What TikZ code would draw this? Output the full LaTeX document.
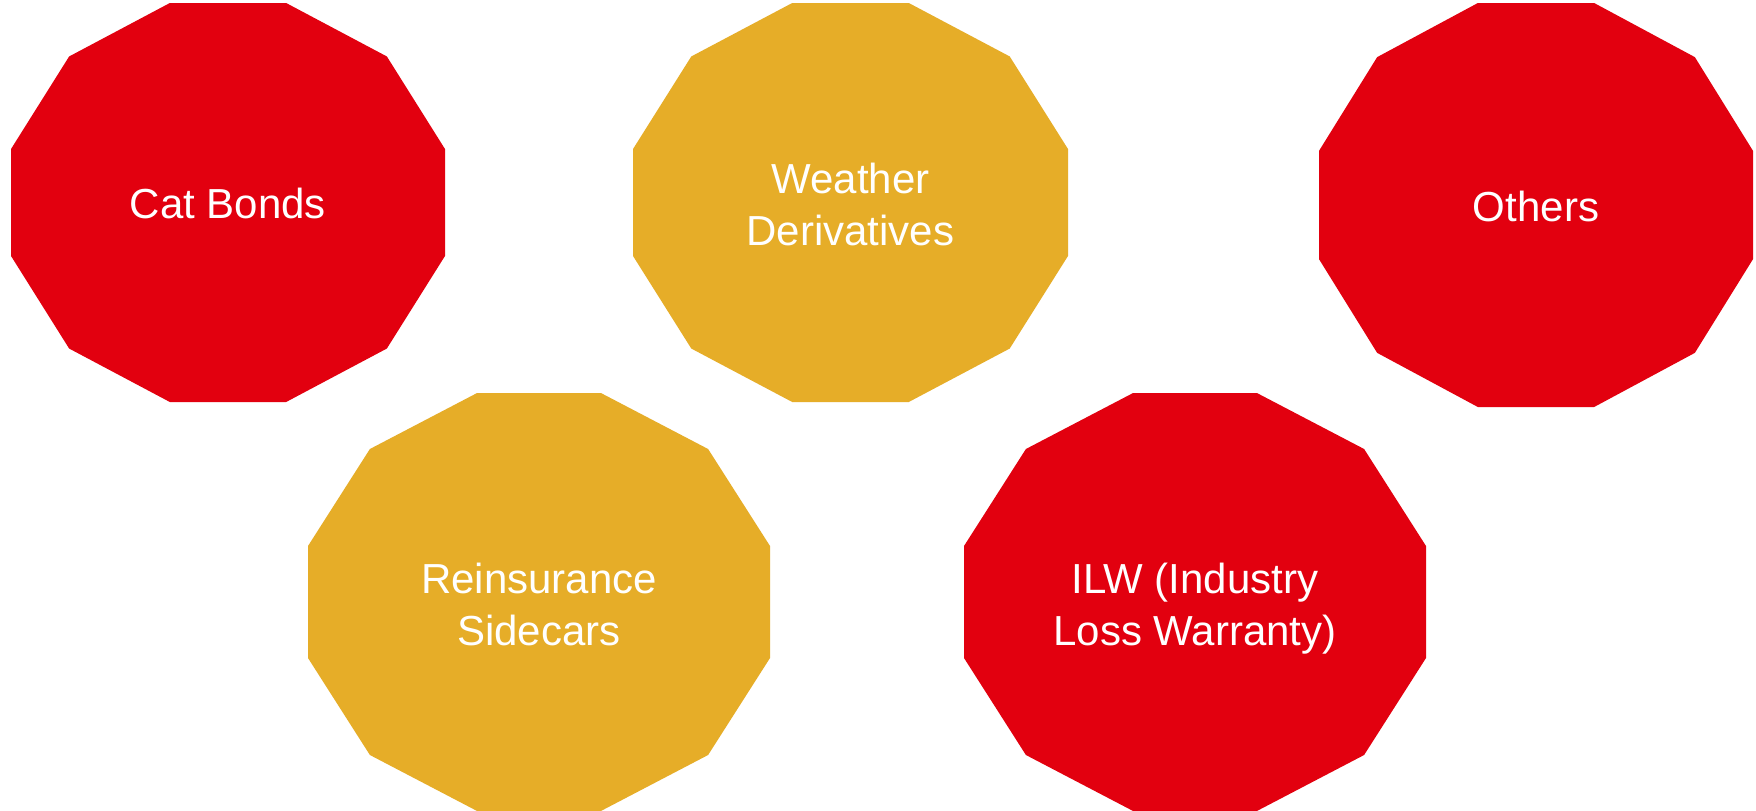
\documentclass[tikz,border=0pt]{standalone}
\usepackage{fontspec}
\setmainfont{Liberation Sans}
\definecolor{brandred}{RGB}{226,0,15}
\definecolor{brandgold}{RGB}{230,173,40}
% two centred lines; the box's baseline is that of the first line
\newcommand\stacklines[2]{\vtop{\baselineskip=52pt\lineskiplimit=-100pt\lineskip=0pt\halign{\hfil##\hfil\cr#1\cr#2\cr}}}
% flat-topped dodecagon: centre #1, half-width #2, half-height #3, fill colour #4
\newcommand\dodecagon[4]{%
  \begin{scope}[shift={#1}, xscale=#2, yscale=#3]
    \fill[#4] (15:1.03528) \foreach \a in {45,75,...,345} { -- (\a:1.03528) } -- cycle;
  \end{scope}}
\begin{document}
\begin{tikzpicture}[x=1pt, y=-1pt,
  lbl/.style={text=white, inner sep=0pt, anchor=base,
              font=\fontsize{42}{52}\selectfont}]
\useasboundingbox (0,0) rectangle (1756,811);
\fill[white] (0,0) rectangle (1756,811);

% top row
\dodecagon{(228,202.5)}{217}{199.5}{brandred}
\dodecagon{(850.5,202.5)}{217.5}{199.5}{brandgold}
\dodecagon{(1536,205)}{217}{202}{brandred}
% bottom row
\dodecagon{(539,602)}{231}{209}{brandgold}
\dodecagon{(1195,602)}{231}{209}{brandred}

\node[lbl] (cat)     at (228,218)   {Cat Bonds};
\node[lbl] (weather) at (850.5,193) {\stacklines{Weather}{Derivatives}};
\node[lbl] (others)  at (1536,221)  {Others};
\node[lbl] (sidecar) at (539,593)   {\stacklines{Reinsurance}{Sidecars}};
\node[lbl] (ilw)     at (1195,593)  {\stacklines{ILW (Industry}{Loss Warranty)}};
\end{tikzpicture}
\end{document}
